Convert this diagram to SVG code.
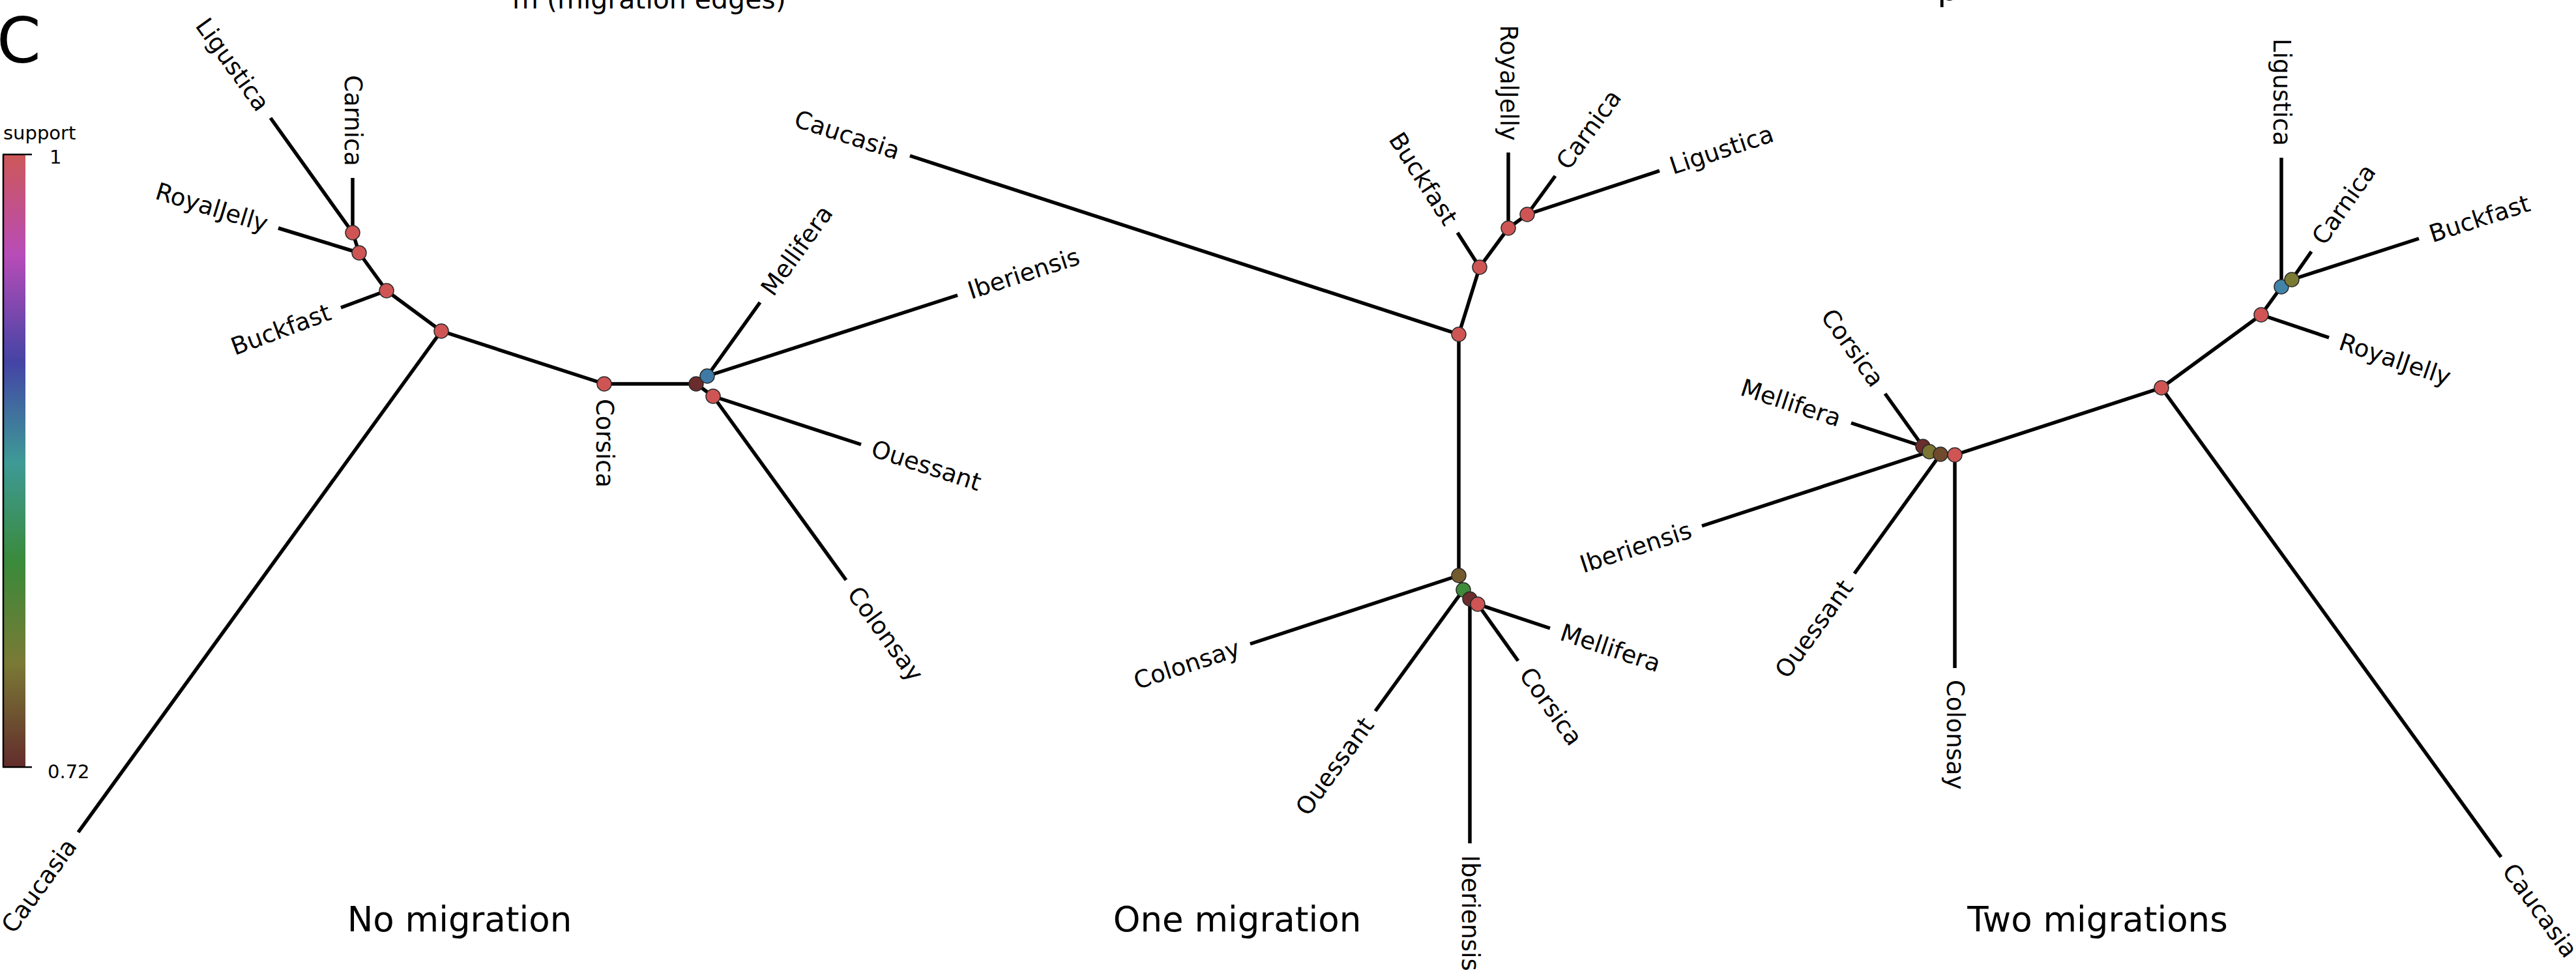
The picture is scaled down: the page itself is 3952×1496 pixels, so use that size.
<svg xmlns="http://www.w3.org/2000/svg" width="3952" height="1496" viewBox="0 0 3952 1496">
<style>
text{font-family:"DejaVu Sans","Liberation Sans",sans-serif;fill:#000}
.lbl{font-size:37px}
.s{text-anchor:start}
.e{text-anchor:end}
.title{font-size:53px;text-anchor:middle}
.cb{font-size:29px}
.edges line{stroke:#000;stroke-width:5.5;stroke-linecap:butt}
circle{stroke:#2a2a2a;stroke-width:1.5}
.red{fill:#cf5555}
</style>
<defs>
<linearGradient id="cmap" x1="0" y1="0" x2="0" y2="1">
<stop offset="0" stop-color="#cd5858"/>
<stop offset="0.164" stop-color="#b84cb8"/>
<stop offset="0.34" stop-color="#4444a5"/>
<stop offset="0.42" stop-color="#40709e"/>
<stop offset="0.503" stop-color="#3e9a96"/>
<stop offset="0.666" stop-color="#3a8a3a"/>
<stop offset="0.83" stop-color="#7a7a35"/>
<stop offset="1" stop-color="#632c2c"/>
</linearGradient>
</defs>
<rect width="3952" height="1496" fill="#fff"/>
<text x="786" y="13" style="font-size:41px">m (migration edges)</text>
<text x="2972" y="0" style="font-size:53px">p</text>
<text x="-5" y="96" style="font-size:97px">C</text>
<g id="colorbar">
<text class="cb" x="5" y="214">support</text>
<rect x="5" y="237" width="34" height="940" fill="url(#cmap)"/>
<line x1="5" y1="237" x2="5" y2="1177" stroke="#000" stroke-width="2.5"/>
<line x1="4" y1="237" x2="49" y2="237" stroke="#000" stroke-width="2.5"/>
<line x1="4" y1="1177" x2="49" y2="1177" stroke="#000" stroke-width="2.5"/>
<text class="cb" x="76" y="251">1</text>
<text class="cb" x="73" y="1194">0.72</text>
</g>
<text class="title" x="705" y="1429">No migration</text>
<text class="title" x="1898" y="1429">One migration</text>
<text class="title" x="3218" y="1429">Two migrations</text>
<g id="connectors" class="edges">
<line x1="541" y1="357" x2="415" y2="181"/>
<line x1="541" y1="357" x2="541" y2="273"/>
<line x1="541" y1="357" x2="551" y2="388"/>
<line x1="551" y1="388" x2="427" y2="350"/>
<line x1="551" y1="388" x2="593" y2="446"/>
<line x1="593" y1="446" x2="523" y2="472"/>
<line x1="593" y1="446" x2="677" y2="508"/>
<line x1="677" y1="508" x2="120" y2="1277"/>
<line x1="677" y1="508" x2="927" y2="589"/>
<line x1="927" y1="589" x2="1068" y2="589"/>
<line x1="1068" y1="589" x2="1085" y2="577"/>
<line x1="1085" y1="577" x2="1166" y2="464"/>
<line x1="1085" y1="577" x2="1469" y2="453"/>
<line x1="1068" y1="589" x2="1094" y2="608"/>
<line x1="1094" y1="608" x2="1321" y2="682"/>
<line x1="1094" y1="608" x2="1298" y2="890"/>
<line x1="2238" y1="513" x2="1396" y2="239"/>
<line x1="2238" y1="513" x2="2270" y2="410"/>
<line x1="2270" y1="410" x2="2236" y2="357"/>
<line x1="2270" y1="410" x2="2314" y2="350"/>
<line x1="2314" y1="350" x2="2314" y2="234"/>
<line x1="2314" y1="350" x2="2343" y2="329"/>
<line x1="2343" y1="329" x2="2386" y2="270"/>
<line x1="2343" y1="329" x2="2546" y2="262"/>
<line x1="2238" y1="513" x2="2238" y2="883"/>
<line x1="2238" y1="883" x2="1918" y2="988"/>
<line x1="2238" y1="883" x2="2245" y2="905"/>
<line x1="2245" y1="905" x2="2110" y2="1091"/>
<line x1="2245" y1="905" x2="2255" y2="919"/>
<line x1="2255" y1="919" x2="2255" y2="1294"/>
<line x1="2255" y1="919" x2="2267" y2="927"/>
<line x1="2267" y1="927" x2="2329" y2="1014"/>
<line x1="2267" y1="927" x2="2378" y2="964"/>
<line x1="3316" y1="595" x2="3837" y2="1315"/>
<line x1="3316" y1="595" x2="3469" y2="483"/>
<line x1="3469" y1="483" x2="3573" y2="518"/>
<line x1="3469" y1="483" x2="3500" y2="440"/>
<line x1="3500" y1="440" x2="3500" y2="242"/>
<line x1="3500" y1="440" x2="3516" y2="429"/>
<line x1="3516" y1="429" x2="3546" y2="386"/>
<line x1="3516" y1="429" x2="3711" y2="366"/>
<line x1="3316" y1="595" x2="2999" y2="698"/>
<line x1="2999" y1="698" x2="2999" y2="1025"/>
<line x1="2999" y1="698" x2="2977" y2="697"/>
<line x1="2977" y1="697" x2="2845" y2="880"/>
<line x1="2977" y1="697" x2="2960" y2="693"/>
<line x1="2960" y1="693" x2="2611" y2="807"/>
<line x1="2960" y1="693" x2="2950" y2="685"/>
<line x1="2950" y1="685" x2="2840" y2="649"/>
<line x1="2950" y1="685" x2="2892" y2="604"/>
</g>
<!-- Panel 1: No migration -->
<g id="p1-n1"><circle class="red" cx="541" cy="357" r="11"/></g>
<g id="p1-n2"><circle class="red" cx="551" cy="388" r="11"/></g>
<g id="p1-n3"><circle class="red" cx="593" cy="446" r="11"/></g>
<g id="p1-n4"><circle class="red" cx="677" cy="508" r="11"/></g>
<g id="p1-corsica"><circle class="red" cx="927" cy="589" r="11"/><text class="lbl s" transform="translate(927,612) rotate(90)" dy="0.33em">Corsica</text></g>
<g id="p1-n5"><circle cx="1068" cy="589" r="11" fill="#6a2c2c"/></g>
<g id="p1-n6"><circle cx="1085" cy="577" r="11" fill="#3f7aa6"/></g>
<g id="p1-n7"><circle class="red" cx="1094" cy="608" r="11"/></g>
<g id="p1-ligustica"><text class="lbl e" transform="translate(404.5,166.4) rotate(54.4)" dy="0.33em">Ligustica</text></g>
<g id="p1-carnica"><text class="lbl e" transform="translate(541,255) rotate(90)" dy="0.33em">Carnica</text></g>
<g id="p1-royaljelly"><text class="lbl e" transform="translate(409.8,344.7) rotate(17)" dy="0.33em">RoyalJelly</text></g>
<g id="p1-buckfast"><text class="lbl e" transform="translate(506,478.3) rotate(-20.4)" dy="0.33em">Buckfast</text></g>
<g id="p1-caucasia"><text class="lbl e" transform="translate(109.4,1291.6) rotate(-54.1)" dy="0.33em">Caucasia</text></g>
<g id="p1-mellifera"><text class="lbl s" transform="translate(1176.5,449.4) rotate(-54.4)" dy="0.33em">Mellifera</text></g>
<g id="p1-iberiensis"><text class="lbl s" transform="translate(1486,447.5) rotate(-17.9)" dy="0.33em">Iberiensis</text></g>
<g id="p1-ouessant"><text class="lbl s" transform="translate(1338,687.6) rotate(18.1)" dy="0.33em">Ouessant</text></g>
<g id="p1-colonsay"><text class="lbl s" transform="translate(1308.5,904.6) rotate(54.1)" dy="0.33em">Colonsay</text></g>
<!-- Panel 2: One migration -->
<g id="p2-n1"><circle class="red" cx="2238" cy="513" r="11"/></g>
<g id="p2-n2"><circle class="red" cx="2270" cy="410" r="11"/></g>
<g id="p2-n3"><circle class="red" cx="2314" cy="350" r="11"/></g>
<g id="p2-n4"><circle class="red" cx="2343" cy="329" r="11"/></g>
<g id="p2-n5"><circle cx="2238" cy="883" r="11" fill="#735b2d"/></g>
<g id="p2-n6"><circle cx="2245" cy="905" r="11" fill="#3e8b3a"/></g>
<g id="p2-n7"><circle cx="2255" cy="919" r="11" fill="#6b2d2d"/></g>
<g id="p2-n8"><circle class="red" cx="2267" cy="927" r="11"/></g>
<g id="p2-caucasia"><text class="lbl e" transform="translate(1379,233.4) rotate(18)" dy="0.33em">Caucasia</text></g>
<g id="p2-buckfast"><text class="lbl e" transform="translate(2226.3,341.8) rotate(57.3)" dy="0.33em">Buckfast</text></g>
<g id="p2-royaljelly"><text class="lbl e" transform="translate(2314,216) rotate(90)" dy="0.33em">RoyalJelly</text></g>
<g id="p2-carnica"><text class="lbl s" transform="translate(2396.6,255.5) rotate(-53.9)" dy="0.33em">Carnica</text></g>
<g id="p2-ligustica"><text class="lbl s" transform="translate(2563,256.4) rotate(-18.3)" dy="0.33em">Ligustica</text></g>
<g id="p2-colonsay"><text class="lbl e" transform="translate(1901,993.6) rotate(-18.2)" dy="0.33em">Colonsay</text></g>
<g id="p2-ouessant"><text class="lbl e" transform="translate(2099.4,1105.6) rotate(-54)" dy="0.33em">Ouessant</text></g>
<g id="p2-iberiensis"><text class="lbl s" transform="translate(2255,1312) rotate(90)" dy="0.33em">Iberiensis</text></g>
<g id="p2-corsica"><text class="lbl s" transform="translate(2339.4,1028.7) rotate(54.5)" dy="0.33em">Corsica</text></g>
<g id="p2-mellifera"><text class="lbl s" transform="translate(2395,969.7) rotate(18.4)" dy="0.33em">Mellifera</text></g>
<!-- Panel 3: Two migrations -->
<g id="p3-n1"><circle class="red" cx="3316" cy="595" r="11"/></g>
<g id="p3-n2"><circle class="red" cx="3469" cy="483" r="11"/></g>
<g id="p3-n3"><circle cx="3500" cy="440" r="11" fill="#4283a8"/></g>
<g id="p3-n4"><circle cx="3516" cy="429" r="11" fill="#7b7b34"/></g>
<g id="p3-n5"><circle cx="2950" cy="685" r="11" fill="#6b2d2d"/></g>
<g id="p3-n6"><circle cx="2960" cy="693" r="11" fill="#7b7432"/></g>
<g id="p3-n7"><circle cx="2977" cy="697" r="11" fill="#6f4a2c"/></g>
<g id="p3-n8"><circle class="red" cx="2999" cy="698" r="11"/></g>
<g id="p3-ligustica"><text class="lbl e" transform="translate(3500,224) rotate(90)" dy="0.33em">Ligustica</text></g>
<g id="p3-carnica"><text class="lbl s" transform="translate(3556.3,371.2) rotate(-55.1)" dy="0.33em">Carnica</text></g>
<g id="p3-buckfast"><text class="lbl s" transform="translate(3728,360.5) rotate(-17.9)" dy="0.33em">Buckfast</text></g>
<g id="p3-royaljelly"><text class="lbl s" transform="translate(3590,523.7) rotate(18.6)" dy="0.33em">RoyalJelly</text></g>
<g id="p3-caucasia"><text class="lbl s" transform="translate(3847.5,1329.6) rotate(54.1)" dy="0.33em">Caucasia</text></g>
<g id="p3-colonsay"><text class="lbl s" transform="translate(2999,1043) rotate(90)" dy="0.33em">Colonsay</text></g>
<g id="p3-ouessant"><text class="lbl e" transform="translate(2834.5,894.6) rotate(-54.2)" dy="0.33em">Ouessant</text></g>
<g id="p3-iberiensis"><text class="lbl e" transform="translate(2594,812.6) rotate(-18.1)" dy="0.33em">Iberiensis</text></g>
<g id="p3-mellifera"><text class="lbl e" transform="translate(2823,643.4) rotate(18.1)" dy="0.33em">Mellifera</text></g>
<g id="p3-corsica"><text class="lbl e" transform="translate(2881.5,589.4) rotate(54.4)" dy="0.33em">Corsica</text></g>
</svg>
